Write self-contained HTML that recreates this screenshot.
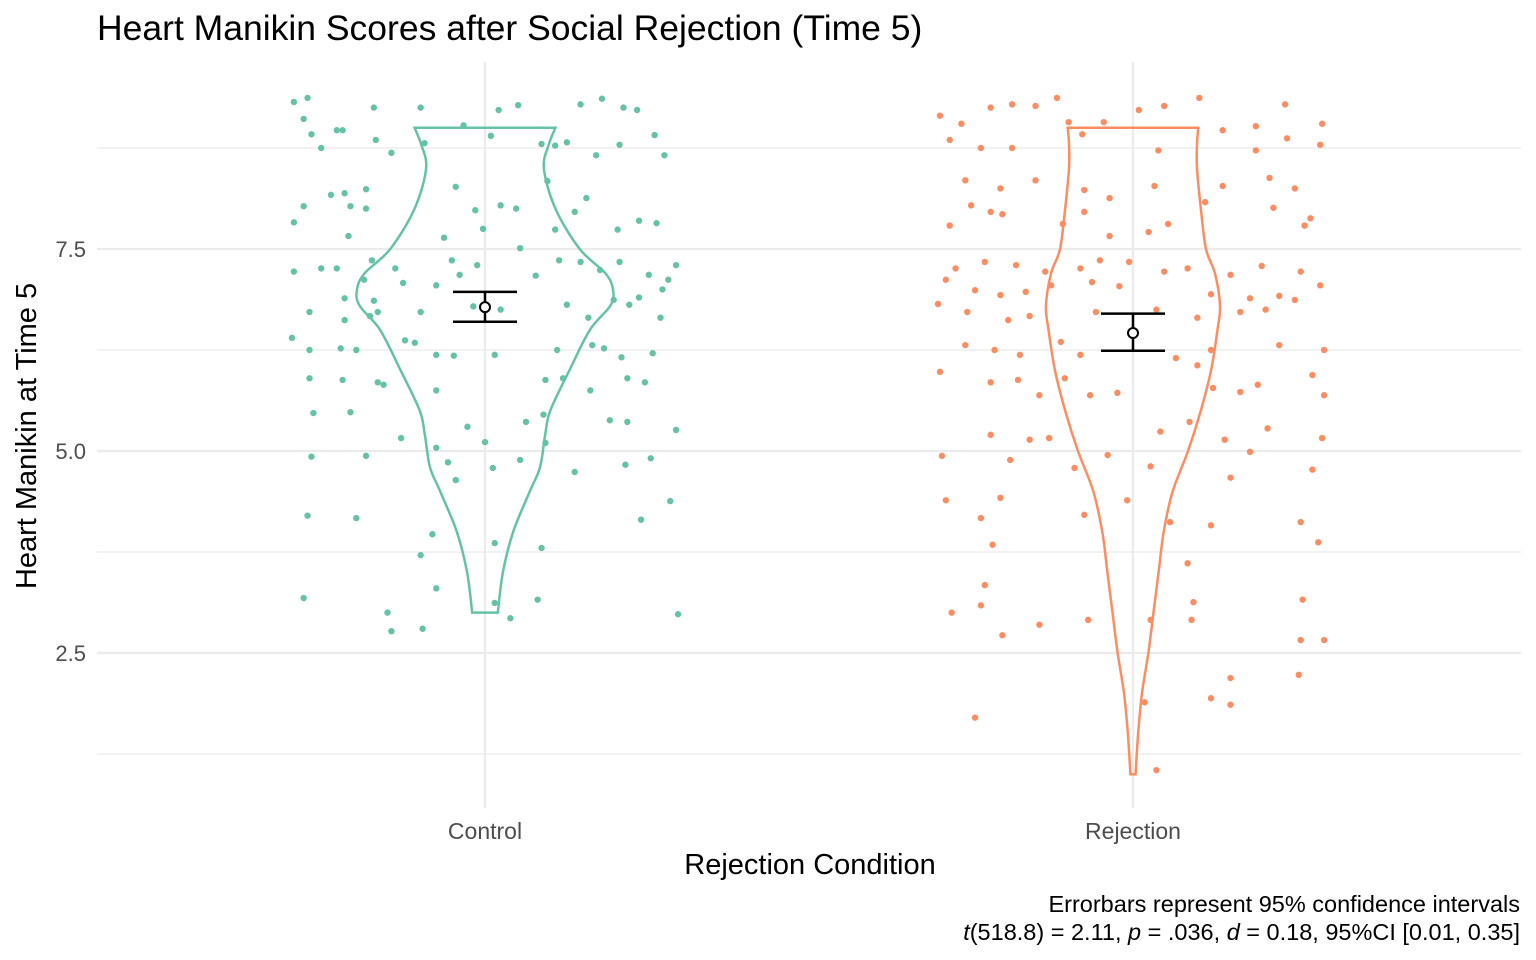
<!DOCTYPE html>
<html><head><meta charset="utf-8"><style>
body{margin:0;background:#fff;}
svg{display:block;font-family:"Liberation Sans",sans-serif;}
</style></head><body>
<svg id="chart" width="1536" height="960">
<text x="97" y="40" font-size="35.5" fill="#000">Heart Manikin Scores after Social Rejection (Time 5)</text>
<g id="grid"></g><g id="marks"></g><g id="axes"></g>
<text x="810" y="874" font-size="29" text-anchor="middle" fill="#000">Rejection Condition</text>
<text transform="translate(36,436) rotate(-90)" font-size="29" text-anchor="middle" fill="#000">Heart Manikin at Time 5</text>
<text x="1520" y="912" font-size="23.5" text-anchor="end" fill="#000">Errorbars represent 95% confidence intervals</text>
<text x="1520" y="940" font-size="23.5" text-anchor="end" fill="#000"><tspan font-style="italic">t</tspan>(518.8) = 2.11, <tspan font-style="italic">p</tspan> = .036, <tspan font-style="italic">d</tspan> = 0.18, 95%CI [0.01, 0.35]</text>
</svg>
<script>
const categories=["Control","Rejection"];
const colors=["#66c2a5","#fc8d62"];
const yTicks=[2.5,5.0,7.5];
const yMinor=[1.25,3.75,6.25,8.75];
const means=[6.78,6.46];
const ciLow=[6.60,6.24];
const ciHigh=[6.97,6.70];
const violinValsC=[3.0,3.5,4.0,4.5,4.8,5.2,5.5,6.0,6.5,6.8,7.0,7.2,7.5,8.0,8.5,8.8,9.0];
const violinDensC=[0.10,0.14,0.22,0.35,0.43,0.47,0.51,0.66,0.82,0.98,1.0,0.94,0.74,0.55,0.46,0.50,0.55];
const violinValsR=[1.0,1.5,2.0,2.5,3.0,3.5,4.0,4.5,5.0,5.5,6.0,6.5,6.8,7.2,7.5,8.0,8.5,8.8,9.0];
const violinDensR=[0.02,0.04,0.07,0.12,0.16,0.2,0.24,0.31,0.43,0.53,0.61,0.66,0.68,0.64,0.57,0.53,0.5,0.5,0.51];
const ptsC=[[-0.98,9.32],[-0.91,9.37],[-0.57,9.25],[-0.33,9.25],[0.07,9.22],[0.17,9.28],[0.49,9.29],[0.60,9.36],[0.71,9.25],[0.78,9.22],[-0.93,9.11],[-0.76,8.97],[-0.73,8.97],[-0.56,8.85],[-0.89,8.92],[-0.84,8.75],[-0.48,8.69],[-0.31,8.81],[-0.11,9.03],[0.03,8.9],[0.29,8.8],[0.36,8.78],[0.42,8.82],[0.57,8.66],[0.69,8.79],[0.87,8.91],[0.92,8.66],[-0.79,8.17],[-0.72,8.19],[-0.61,8.24],[-0.93,8.03],[-0.69,8.03],[-0.61,8.0],[-0.15,8.27],[-0.05,7.98],[0.08,8.04],[0.16,8.0],[0.32,8.34],[0.46,7.96],[0.52,8.13],[0.79,7.85],[0.88,7.82],[-0.98,7.83],[-0.70,7.66],[-0.21,7.64],[-0.01,7.75],[0.36,7.74],[0.68,7.74],[-0.98,7.22],[-0.84,7.26],[-0.76,7.26],[-0.58,7.36],[-0.46,7.26],[-0.17,7.36],[-0.04,7.3],[0.18,7.51],[0.38,7.36],[0.49,7.34],[0.59,7.24],[0.69,7.34],[0.84,7.18],[0.94,7.12],[0.98,7.3],[-0.62,7.12],[-0.42,7.08],[-0.25,7.05],[-0.13,7.18],[0.26,7.17],[0.66,6.87],[0.79,6.9],[0.91,7.0],[-0.72,6.89],[-0.57,6.86],[-0.9,6.72],[-0.59,6.67],[-0.55,6.72],[-0.72,6.62],[-0.33,6.72],[-0.06,6.79],[0.08,6.75],[0.42,6.81],[0.53,6.65],[0.9,6.65],[0.74,6.81],[-0.99,6.4],[-0.9,6.25],[-0.74,6.27],[-0.66,6.25],[-0.41,6.37],[-0.36,6.34],[-0.25,6.19],[-0.16,6.18],[0.05,6.19],[0.37,6.25],[0.55,6.31],[0.61,6.27],[0.7,6.16],[0.86,6.21],[-0.9,5.9],[-0.73,5.88],[-0.52,5.82],[-0.55,5.85],[-0.25,5.75],[0.31,5.88],[0.4,5.9],[0.54,5.75],[0.73,5.9],[0.82,5.85],[-0.88,5.47],[-0.69,5.48],[-0.43,5.16],[-0.09,5.3],[0.21,5.36],[0.3,5.45],[0.64,5.38],[0.73,5.36],[0.98,5.26],[-0.89,4.93],[-0.61,4.94],[-0.25,5.04],[-0.19,4.86],[0.0,5.11],[0.18,4.89],[0.04,4.79],[0.72,4.83],[0.85,4.91],[-0.15,4.64],[0.46,4.74],[0.31,5.1],[-0.91,4.2],[-0.66,4.17],[-0.27,3.97],[0.05,3.86],[0.29,3.8],[0.8,4.15],[0.95,4.38],[-0.33,3.71],[-0.93,3.18],[-0.25,3.3],[0.05,3.12],[0.27,3.16],[0.99,2.98],[-0.5,3.0],[-0.48,2.77],[-0.32,2.8],[0.13,2.93]];
const ptsR=[[-0.99,9.15],[-0.88,9.05],[-0.73,9.25],[-0.62,9.29],[-0.5,9.27],[-0.39,9.37],[-0.33,9.07],[-0.15,9.07],[0.03,9.22],[0.16,9.27],[0.34,9.37],[0.46,8.97],[0.63,9.02],[0.78,9.29],[0.97,9.05],[-0.94,8.85],[-0.78,8.75],[-0.62,8.75],[-0.26,8.92],[0.13,8.72],[0.63,8.72],[0.79,8.87],[0.96,8.79],[-0.86,8.35],[-0.68,8.25],[-0.5,8.35],[-0.25,8.23],[0.11,8.28],[0.46,8.28],[0.7,8.38],[0.83,8.25],[-0.83,8.04],[-0.73,7.96],[-0.67,7.93],[-0.12,8.13],[0.18,7.81],[0.37,8.08],[0.72,8.01],[0.91,7.88],[-0.94,7.79],[-0.36,7.81],[-0.25,7.96],[-0.12,7.66],[0.08,7.71],[0.88,7.79],[-0.91,7.26],[-0.76,7.34],[-0.6,7.3],[-0.45,7.22],[-0.27,7.26],[-0.17,7.36],[-0.02,7.34],[0.16,7.22],[0.28,7.26],[0.5,7.18],[0.66,7.29],[0.86,7.22],[0.96,7.05],[-0.96,7.12],[-0.81,6.99],[-0.68,6.93],[-0.55,6.97],[-0.42,7.05],[-0.21,7.09],[-0.07,7.04],[0.4,6.94],[0.6,6.89],[0.75,6.92],[0.83,6.87],[-1.0,6.82],[-0.85,6.72],[-0.64,6.62],[-0.53,6.67],[-0.19,6.72],[0.12,6.75],[0.33,6.65],[0.55,6.72],[0.68,6.75],[-0.86,6.31],[-0.71,6.25],[-0.58,6.19],[-0.37,6.35],[-0.27,6.19],[0.22,6.15],[0.33,6.06],[0.4,6.25],[0.75,6.31],[0.98,6.25],[-0.99,5.98],[-0.73,5.85],[-0.59,5.88],[-0.48,5.69],[-0.35,5.9],[-0.22,5.69],[-0.08,5.72],[0.41,5.78],[0.55,5.73],[0.64,5.82],[0.92,5.94],[0.98,5.69],[-0.73,5.2],[-0.53,5.14],[-0.43,5.16],[0.14,5.24],[0.29,5.36],[0.47,5.14],[0.69,5.28],[0.97,5.16],[0.6,4.99],[-0.13,4.95],[-0.98,4.94],[-0.63,4.89],[-0.3,4.79],[0.09,4.81],[0.5,4.67],[0.92,4.77],[-0.96,4.39],[-0.68,4.42],[-0.25,4.21],[-0.03,4.39],[0.19,4.12],[0.4,4.08],[0.86,4.12],[0.95,3.87],[-0.78,4.17],[-0.72,3.84],[0.28,3.61],[-0.76,3.34],[0.31,3.13],[0.87,3.16],[-0.93,3.0],[-0.78,3.09],[-0.48,2.85],[-0.23,2.91],[0.09,2.91],[0.3,2.91],[-0.67,2.72],[0.86,2.66],[0.98,2.66],[0.85,2.23],[0.5,2.19],[0.4,1.94],[0.5,1.86],[0.06,1.89],[-0.81,1.7],[0.12,1.05]];

const NS="http://www.w3.org/2000/svg";
const plotL=97,plotR=1521,plotT=62,plotB=808;
const catX=[485,1133];
const jitterW=195, violinW=128;
function yS(v){return 451-(v-5)*80.8;}
function xS(i){return catX[i];}
function mk(tag,attrs,parent){const e=document.createElementNS(NS,tag);for(const k in attrs)e.setAttribute(k,attrs[k]);parent.appendChild(e);return e;}
const grid=document.getElementById('grid'),marks=document.getElementById('marks'),axes=document.getElementById('axes');
yMinor.forEach(v=>{const l=mk('line',{x1:plotL,x2:plotR,y1:yS(v),y2:yS(v),stroke:'#ebebeb','stroke-width':1.2},grid);

});
yTicks.forEach(v=>{const l=mk('line',{x1:plotL,x2:plotR,y1:yS(v),y2:yS(v),stroke:'#ebebeb','stroke-width':2.2},grid);


const t=mk('text',{x:86,y:yS(v)+8,'font-size':22,'text-anchor':'end',fill:'#4d4d4d'},axes);t.textContent=v.toFixed(1);

});
categories.forEach((c,i)=>{const l=mk('line',{x1:xS(i),x2:xS(i),y1:plotT,y2:plotB,stroke:'#ebebeb','stroke-width':2.2},grid);


const t=mk('text',{x:xS(i),y:839,'font-size':23,'text-anchor':'middle',fill:'#4d4d4d'},axes);t.textContent=c;

});
function smooth(p){let d='M'+p[0][0]+','+p[0][1];for(let i=0;i<p.length-1;i++){const p0=p[Math.max(0,i-1)],p1=p[i],p2=p[i+1],p3=p[Math.min(p.length-1,i+2)];
const c1=[p1[0]+(p2[0]-p0[0])/6,p1[1]+(p2[1]-p0[1])/6],c2=[p2[0]-(p3[0]-p1[0])/6,p2[1]-(p3[1]-p1[1])/6];
d+=' C'+c1[0]+','+c1[1]+' '+c2[0]+','+c2[1]+' '+p2[0]+','+p2[1];}return d;}
function violin(i,vals,dens){const cx=xS(i);
const right=vals.map((v,k)=>[cx+dens[k]*violinW,yS(v)]);
const left=vals.map((v,k)=>[cx-dens[k]*violinW,yS(v)]).reverse();
let d=smooth(right)+' L'+left[0][0]+','+left[0][1]+smooth(left).replace(/^M[^ ]+/,'')+' Z';
const p=mk('path',{d:d,fill:'none',stroke:colors[i],'stroke-width':2.5},marks);

}
violin(0,violinValsC,violinDensC);violin(1,violinValsR,violinDensR);
[ptsC,ptsR].forEach((pts,i)=>pts.forEach(p=>{const c=mk('circle',{cx:xS(i)+p[0]*jitterW,cy:yS(p[1]),r:3.2,fill:colors[i]},marks);

}));
categories.forEach((c,i)=>{const x=xS(i);
const g=mk('g',{},marks);


mk('line',{x1:x,x2:x,y1:yS(ciHigh[i]),y2:yS(ciLow[i]),stroke:'#000','stroke-width':2.5},g);
mk('line',{x1:x-32,x2:x+32,y1:yS(ciHigh[i]),y2:yS(ciHigh[i]),stroke:'#000','stroke-width':2.5},g);
mk('line',{x1:x-32,x2:x+32,y1:yS(ciLow[i]),y2:yS(ciLow[i]),stroke:'#000','stroke-width':2.5},g);
const m=mk('circle',{cx:x,cy:yS(means[i]),r:5,fill:'#fff',stroke:'#000','stroke-width':2},g);

});
</script>
</body></html>
